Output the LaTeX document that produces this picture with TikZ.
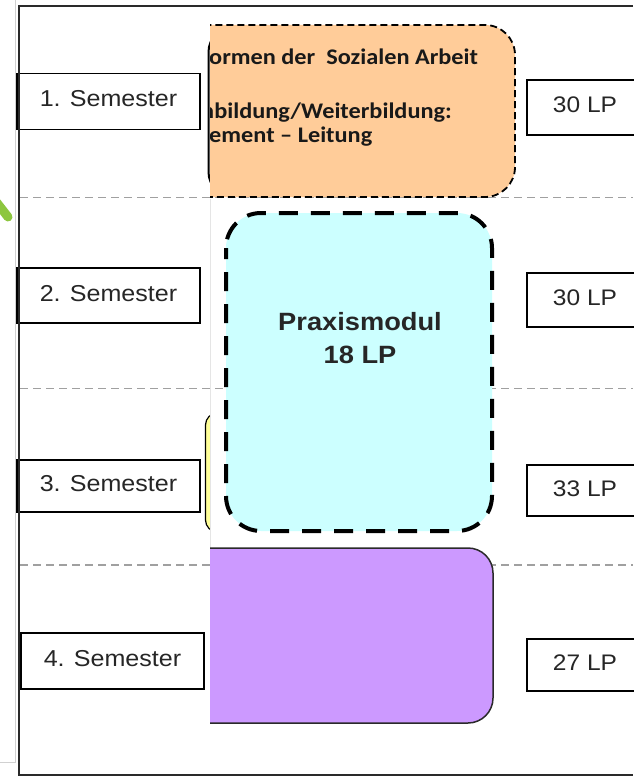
\documentclass[tikz,border=0pt]{standalone}
\usepackage{fontspec}
\setmainfont{Liberation Sans}
\newfontfamily\arialw[FakeStretch=1.09]{Liberation Sans}
\newfontfamily\calfont[FakeStretch=1.09]{Carlito}
\definecolor{orangefill}{HTML}{FFCC99}
\definecolor{cyanfill}{HTML}{CCFFFF}
\definecolor{purplefill}{HTML}{CC99FF}
\definecolor{yellowfill}{HTML}{FFFF99}
\definecolor{greenmark}{HTML}{8DC63F}
\definecolor{framegray}{HTML}{2A2A2A}
\definecolor{sepgray}{HTML}{A0A0A0}
\tikzset{
  sembox/.style={draw=black, line width=1.5pt, fill=white, inner sep=0pt,
    minimum width=183pt, font=\arialw\fontsize{23}{28}\selectfont, text=black!85,
    text height=17pt, text depth=6pt},
  lpbox/.style={draw=black, line width=1.5pt, fill=white, inner sep=0pt,
    minimum width=116pt, font=\arialw\fontsize{22.5}{27}\selectfont, text=black!85,
    text height=17pt, text depth=6pt},
  sepline/.style={draw=sepgray, line width=1.5pt, dash pattern=on 8pt off 5pt},
  orangetext/.style={anchor=base west, inner sep=0pt, text=black!90, font=\calfont\bfseries\fontsize{22.3}{27}\selectfont},
  praxistext/.style={anchor=base, inner sep=0pt, font=\arialw\bfseries\fontsize{25}{30}\selectfont, text=black!85}
}
\begin{document}
\begin{tikzpicture}[x=1pt,y=-1pt]
\useasboundingbox (0,0) rectangle (633,778);
\fill[white] (0,0) rectangle (633,778);
% faint screenshot edges
\draw[black!18, line width=1pt] (15.5,0) -- (15.5,762) -- (0,762);
% green mark
\draw[greenmark, line width=9pt, line cap=round] (-6,199) -- (8,217);
% outer frame
\draw[framegray, line width=2pt] (633,6) -- (18.5,6) -- (18.5,775) -- (633,775);
% separator lines
\coordinate (s1a) at (20,197.5); \coordinate (s1b) at (633,197.5);
\coordinate (s2a) at (20,388.5); \coordinate (s2b) at (633,388.5);
\coordinate (s3a) at (20,565);   \coordinate (s3b) at (633,565);
\draw[sepline] (s1a) -- (s1b);
\draw[sepline] (s2a) -- (s2b);
\draw[sepline] (s3a) -- (s3b);
% left layer remnants (x < 210)
\begin{scope}
  \clip (0,0) rectangle (210,778);
  \draw[black, line width=2pt, rounded corners=25pt] (208.5,27) rectangle (300,197);
  \draw[black, line width=1.2pt, fill=yellowfill, rounded corners=12pt] (205.5,413) rectangle (300,532);
\end{scope}
\draw[black!10, line width=1pt] (210,199) -- (210,548);
% right layer (x >= 210)
\begin{scope}
  \clip (210,0) rectangle (633,778);
  \draw[black, line width=1.8pt, dash pattern=on 7pt off 4pt, fill=orangefill, rounded corners=30pt]
    (170,25) rectangle (515,197);
  \node[orangetext] (o1) at (209,65) {ormen der\ \ Sozialen Arbeit};
  \node[orangetext] (o2) at (201,119) {nbildung/Weiterbildung:};
  \node[orangetext] (o3) at (209,143) {ement – Leitung};
  \draw[framegray, line width=1.5pt, fill=purplefill, rounded corners=25pt]
    (170,548) rectangle (493,723);
\end{scope}
% Praxismodul
\draw[black, line width=4pt, dash pattern=on 19pt off 13pt, dash phase=8pt, fill=cyanfill, rounded corners=35pt]
  (226,213) rectangle (492,531);
\node[praxistext] (praxis) at (360,330) {Praxismodul};
\node[praxistext] (praxislp) at (360,363) {18 LP};
% semester boxes
\node[sembox, minimum height=56pt] (sem1) at (108.5,101.5) {1. Semester};
\node[sembox, minimum height=55pt] (sem2) at (108.5,295.5) {2. Semester};
\node[sembox, minimum height=52pt] (sem3) at (108.5,486) {3. Semester};
\node[sembox, minimum height=56pt] (sem4) at (112.5,661) {4. Semester};
% LP boxes
\node[lpbox, minimum height=55pt] (lp1) at (585,107.5) {30 LP};
\node[lpbox, minimum height=54pt] (lp2) at (585,300) {30 LP};
\node[lpbox, minimum height=51pt] (lp3) at (585,490.5) {33 LP};
\node[lpbox, minimum height=52pt] (lp4) at (585,665) {27 LP};
% redraw frame left edge over boxes
\draw[framegray, line width=2pt] (18.5,6) -- (18.5,775);
\end{tikzpicture}
\end{document}
